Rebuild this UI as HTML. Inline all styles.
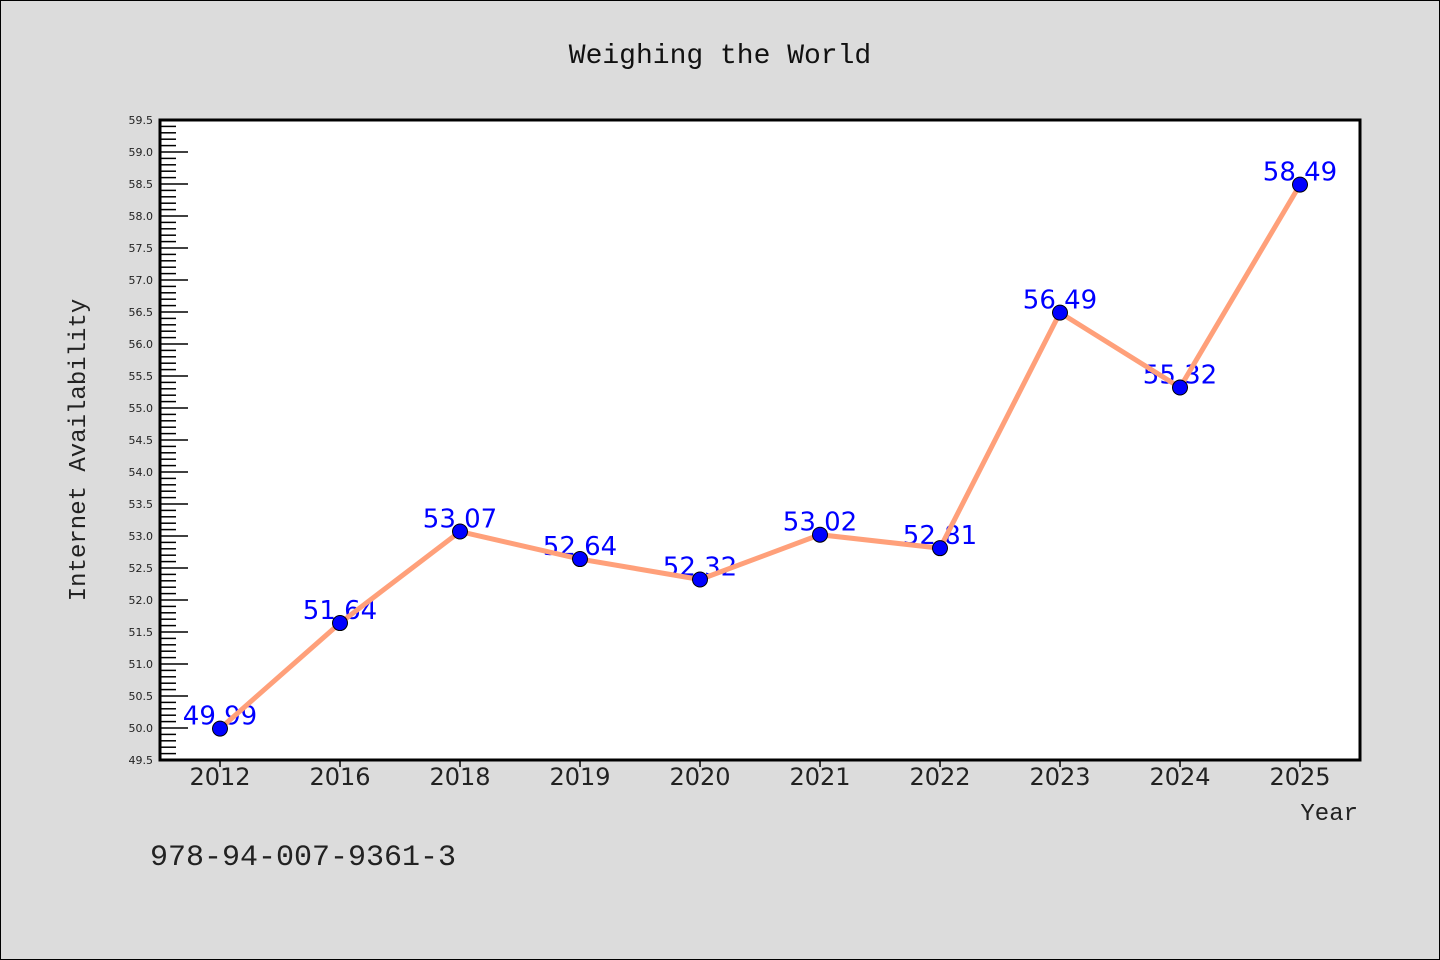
<!DOCTYPE html>
<html><head><meta charset="utf-8"><style>
html,body{margin:0;padding:0;background:#dcdcdc;}
svg{display:block;font-family:"Liberation Mono","DejaVu Sans Mono",monospace;}
</style></head><body>
<svg id="c" width="1440" height="960">
<rect x="0.5" y="0.5" width="1439" height="959" fill="#dcdcdc" stroke="#000" stroke-width="1"/>
<text x="720" y="63" text-anchor="middle" font-size="28" fill="#111">Weighing the World</text>
<text transform="translate(85,450) rotate(-90)" text-anchor="middle" font-size="24" fill="#222">Internet Availability</text>
<text x="1358" y="820" text-anchor="end" font-size="24" fill="#222">Year</text>
<text x="150" y="865" font-size="30" fill="#222">978-94-007-9361-3</text>
<rect x="160" y="120" width="1200" height="640" fill="#fff"/>
<g id="g"></g>
<rect x="160" y="120" width="1200" height="640" fill="none" stroke="#000" stroke-width="3"/>
</svg>
<script>
const categories=["2012","2016","2018","2019","2020","2021","2022","2023","2024","2025"];
const values=[49.99,51.64,53.07,52.64,52.32,53.02,52.81,56.49,55.32,58.49];
const labels=["49.99","51.64","53.07","52.64","52.32","53.02","52.81","56.49","55.32","58.49"];
const yMin=49.5,yMax=59.5;
const NS="http://www.w3.org/2000/svg";
const g=document.getElementById('g');
const L=160,T=120,W=1200,H=640;
function x(i){return L+W*(i+0.5)/categories.length;}
function y(v){return T+H*(yMax-v)/(yMax-yMin);}
function mk(t,a,p){const e=document.createElementNS(NS,t);for(const k in a)e.setAttribute(k,a[k]);(p||g).appendChild(e);return e;}
for(let k=0;k<=100;k++){
  const v=yMin+k*0.1, yy=y(v), major=k%5===0;
  const t=mk('line',{x1:L,x2:L+(major?28:16),y1:yy,y2:yy,stroke:'#000','stroke-width':1.5});
  
  
  if(major){
    const tx=mk('text',{x:153,y:yy+4,'text-anchor':'end','font-size':11,fill:'#222','font-family':'DejaVu Sans, sans-serif'});
    tx.textContent=v.toFixed(1);
    
    
  }
}
categories.forEach((c,i)=>{
  const t=mk('line',{x1:x(i),x2:x(i),y1:T+H,y2:T+H+7,stroke:'#000','stroke-width':1.5});
  
  
  const tx=mk('text',{x:x(i),y:T+H+25,'text-anchor':'middle','font-size':24,fill:'#222','font-family':'DejaVu Sans, sans-serif'});
  tx.textContent=c;
  
  
});
values.forEach((v,i)=>{
  const tx=mk('text',{x:x(i),y:y(v)-4,'text-anchor':'middle','font-size':26,fill:'#0000ff','font-family':'DejaVu Sans, sans-serif'});
  tx.textContent=labels[i];
  
  
});
const pl=mk('polyline',{points:values.map((v,i)=>x(i)+','+y(v)).join(' '),fill:'none',stroke:'#ffa07a','stroke-width':5});


values.forEach((v,i)=>{
  const c=mk('circle',{cx:x(i),cy:y(v),r:7.5,fill:'#0000ff',stroke:'#000','stroke-width':1});
  
  
});
</script>
</body></html>
